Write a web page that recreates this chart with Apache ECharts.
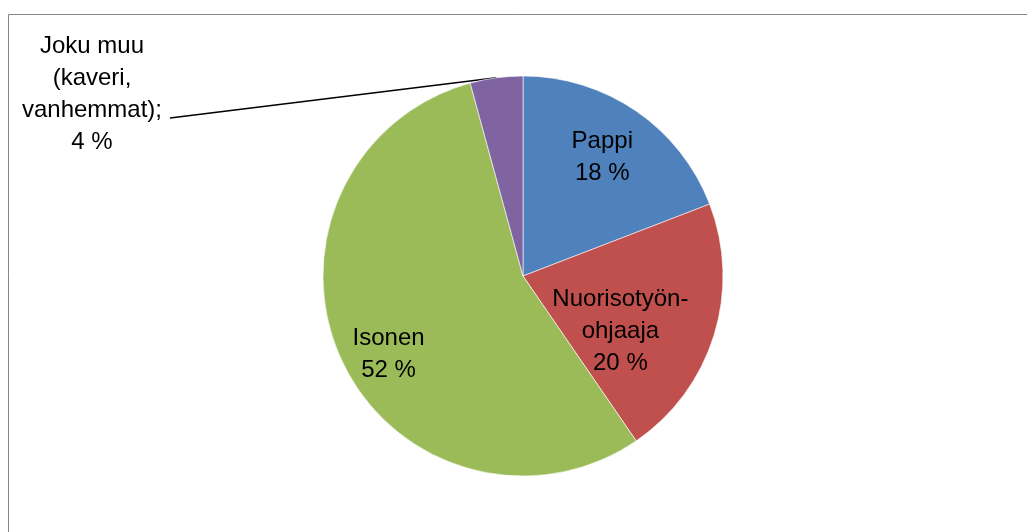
<!DOCTYPE html>
<html>
<head>
<meta charset="utf-8">
<script src="https://cdn.jsdelivr.net/npm/echarts@6/dist/echarts.min.js"></script>
<style>
  html, body { margin: 0; padding: 0; background: #fff; }
  #chart { width: 1027px; height: 532px; }
</style>
</head>
<body>
<div id="chart"></div>
<script>
// shares in the survey (labels show the value, pie normalises them)
var categories = ["Pappi", "Nuorisotyön-\nohjaaja", "Isonen", "Joku muu\n(kaveri,\nvanhemmat)"];
var values = [18, 20, 52, 4];
var colors = ["#4F81BD", "#C0504D", "#9BBB59", "#8064A2"];

// nudges for the inside labels, Excel puts them further out than r/2
var insideOffsets = [[21, -34], [-1, 25], [-41, 35], [0, 0]];

var chart = echarts.init(document.getElementById("chart"));

var seriesData = values.map(function (v, i) {
  var item = {
    name: categories[i],
    value: v,
    itemStyle: { color: colors[i] }
  };
  if (i === 3) {
    item.label = { position: "outside" };
    item.labelLine = { show: true };
  } else {
    item.label = { position: "inside", offset: insideOffsets[i] };
    item.labelLine = { show: false };
  }
  return item;
});

chart.setOption({
  animation: false,
  backgroundColor: "#fff",
  graphic: [
    {
      type: "rect",
      shape: { x: 8.5, y: 14.5, width: 1100, height: 600 },
      style: { fill: null, stroke: "#868686", lineWidth: 1 },
      silent: true
    }
  ],
  series: [
    {
      type: "pie",
      center: [523, 276],
      radius: 200,
      startAngle: 90,
      clockwise: true,
      avoidLabelOverlap: false,
      itemStyle: { borderColor: "#fff", borderWidth: 0.6 },
      label: {
        show: true,
        color: "#000",
        fontFamily: "Liberation Sans",
        fontSize: 24,
        lineHeight: 32,
        align: "center",
        formatter: function (p) {
          var sep = p.dataIndex === 3 ? ";\n" : "\n";
          return p.name + sep + p.value + " %";
        }
      },
      labelLine: {
        lineStyle: { color: "#000", width: 1.6 },
        smooth: false
      },
      labelLayout: function (params) {
        if (params.dataIndex !== 3) return {};
        var start = params.labelLinePoints ? params.labelLinePoints[0] : [496, 78];
        return {
          x: 92,
          y: 94,
          align: "center",
          verticalAlign: "middle",
          labelLinePoints: [start, [170, 118], [170, 118]]
        };
      },
      data: seriesData
    }
  ]
});
</script>
</body>
</html>
